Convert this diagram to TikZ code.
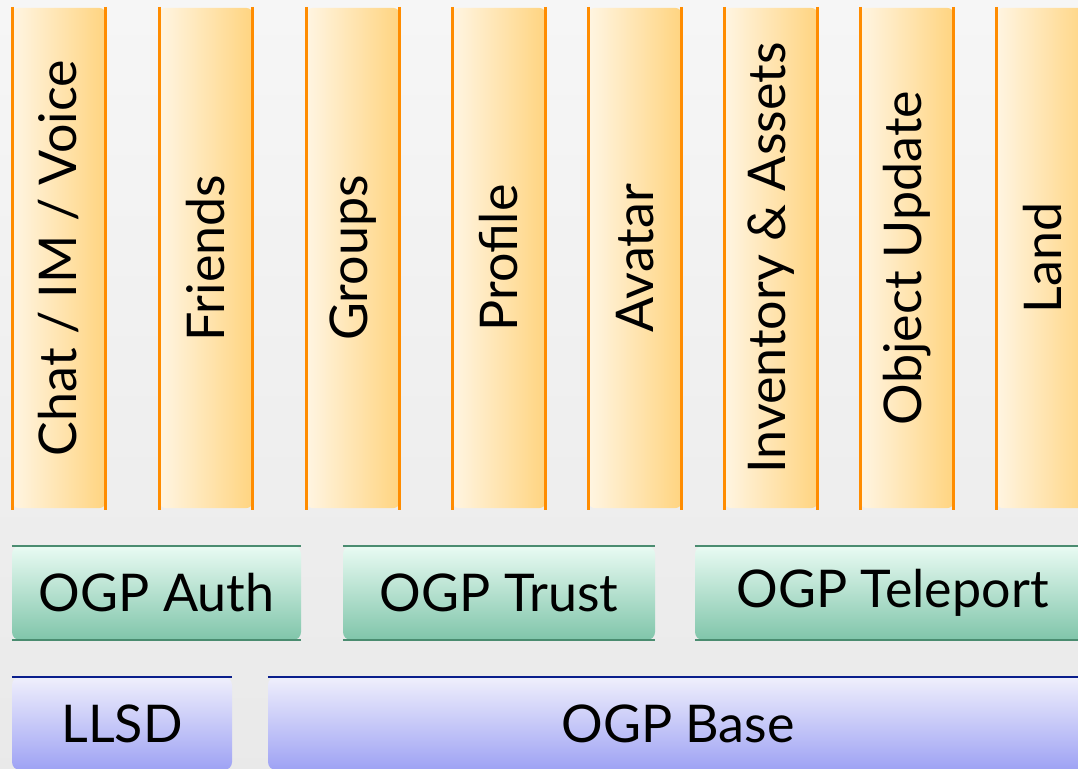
\documentclass[tikz,border=0pt]{standalone}
\usepackage{fontspec}
\setmainfont{Lato}

\definecolor{barlight}{HTML}{FFF5E2}
\definecolor{bardark}{HTML}{FFD480}
\definecolor{baredge}{HTML}{FF8C00}
\definecolor{ogplight}{HTML}{E9FBF3}
\definecolor{ogpdark}{HTML}{80C5AA}
\definecolor{ogpedge}{HTML}{4A8C70}
\definecolor{baselight}{HTML}{EFEFFC}
\definecolor{basedark}{HTML}{9EA2F4}
\definecolor{baseedge}{HTML}{0A1E8C}

\tikzset{
  module/.style={minimum width=93pt, minimum height=500pt, inner sep=0pt,
    rounded corners=6pt, left color=barlight, right color=bardark,
    font=\fontsize{52}{60}\selectfont},
  ogplayer/.style={minimum height=94pt, inner sep=0pt, rounded corners=8pt,
    top color=ogplight, bottom color=ogpdark, font=\fontsize{52}{60}\selectfont},
  baselayer/.style={minimum height=93pt, inner sep=0pt, rounded corners=8pt,
    top color=baselight, bottom color=basedark, font=\fontsize{52}{60}\selectfont},
}

\begin{document}
\begin{tikzpicture}[x=1pt, y=-1pt]
  \useasboundingbox (0,0) rectangle (1078,768);
  \shade[top color=gray!7, bottom color=gray!17] (0,0) rectangle (1078,768);

  % services
  \node[module] (chat)      at (59,258)   {\rotatebox{90}{Chat / IM / Voice}};
  \node[module] (friends)   at (206,258)  {\rotatebox{90}{Friends}};
  \node[module] (groups)    at (353,258)  {\rotatebox{90}{Groups}};
  \node[module] (profile)   at (499,258)  {\rotatebox{90}{Profile}};
  \node[module] (avatar)    at (635,258)  {\rotatebox{90}{Avatar}};
  \node[module] (inventory) at (771,258)  {\rotatebox{90}{Inventory \& Assets}};
  \node[module] (objupdate) at (907,258)  {\rotatebox{90}{Object Update}};
  \node[module] (land)      at (1043,258) {\rotatebox{90}{Land}};

  \foreach \n in {chat,friends,groups,profile,avatar,inventory,objupdate,land} {
    \draw[baredge, line width=2.5pt] ([yshift=1pt]\n.north west) -- ([yshift=-2pt]\n.south west);
    \draw[baredge, line width=2.5pt] ([yshift=1pt]\n.north east) -- ([yshift=-2pt]\n.south east);
  }

  % ogp services
  \node[ogplayer, minimum width=289pt] (auth)     at (156.5,593) {OGP Auth};
  \node[ogplayer, minimum width=312pt] (trust)    at (499,593)   {OGP Trust};
  \node[ogplayer, minimum width=395pt] (teleport) at (892.5,593) {OGP Teleport};

  \foreach \n in {auth,trust,teleport} {
    \draw[ogpedge, line width=2.5pt] (\n.north west) -- (\n.north east);
    \draw[ogpedge, line width=2.5pt] (\n.south west) -- (\n.south east);
  }

  % base
  \node[baselayer, minimum width=220pt] (llsd)    at (122,723.5) {LLSD};
  \node[baselayer, minimum width=820pt] (ogpbase) at (678,723.5) {OGP Base};

  \draw[baseedge, line width=2.5pt] (llsd.north west) -- (llsd.north east);
  \draw[baseedge, line width=2.5pt] (ogpbase.north west) -- (ogpbase.north east);
\end{tikzpicture}
\end{document}
